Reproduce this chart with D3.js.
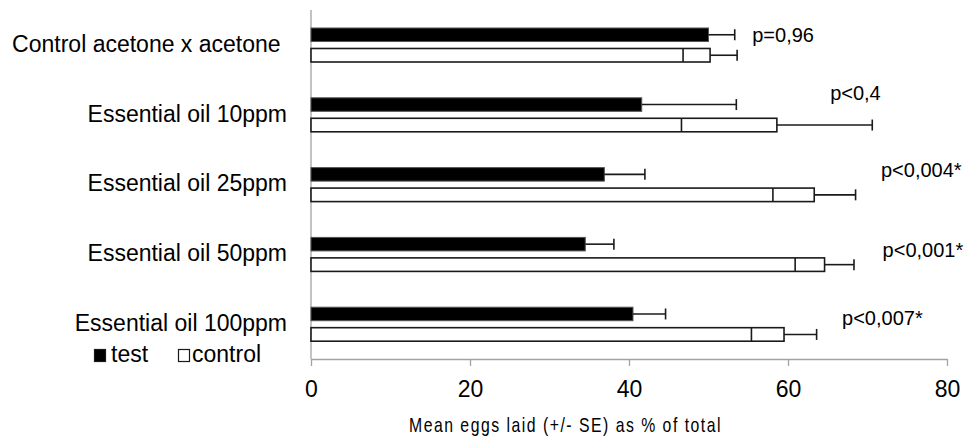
<!DOCTYPE html>
<html>
<head>
<meta charset="utf-8">
<script src="https://cdn.jsdelivr.net/npm/d3@7"></script>
<style>
  html, body { margin: 0; padding: 0; background: #fff; }
  svg { display: block; font-family: "Liberation Sans", Arial, sans-serif; }
  .catLabel { white-space: pre; }
</style>
</head>
<body>
<div id="viz"></div>
<script>
// data
const categories = [
  'Control acetone x acetone ',
  'Essential oil 10ppm',
  'Essential oil 25ppm',
  'Essential oil 50ppm',
  'Essential oil 100ppm',
];
const testMean = [50.0, 41.6, 36.9, 34.5, 40.5];
const testSE = [3.3, 11.9, 5.1, 3.6, 4.1];
const controlMean = [50.2, 58.6, 63.3, 64.6, 59.5];
const controlSE = [3.4, 12.0, 5.2, 3.7, 4.1];
const pLabels = ['p=0,96', 'p<0,4', 'p<0,004*', 'p<0,001*', 'p<0,007*'];
// where each p label sits: x in axis units, y as a fraction of the category band
const pLabelAt = [[55.5, 0.46], [65.3, 0.29], [71.7, 0.39], [71.9, 0.54], [66.8, 0.51]];
const xTicks = [0, 20, 40, 60, 80];
const seriesNames = ['test', 'control'];

const width = 975;
const height = 444;

const svg = d3.select('#viz')
  .append('svg')
  .attr('width', width)
  .attr('height', height);

const x = d3.scaleLinear()
  .domain([0, 80])
  .range([311, 947]);

const y = d3.scaleBand()
  .domain(categories)
  .range([10, 359]);

const sub = d3.scaleBand()
  .domain(seriesNames)
  .range([18, 52])
  .paddingInner(0.34);

const rows = categories.map((c, i) => ({
  cat: c,
  series: [
    { key: 'test', mean: testMean[i], se: testSE[i] },
    { key: 'control', mean: controlMean[i], se: controlSE[i] },
  ],
}));

// axes
const axisColor = '#a3a3a3';

const xAxis = d3.axisBottom(x)
  .tickValues(xTicks)
  .tickSize(7)
  .tickSizeOuter(0)
  .tickPadding(15);

const gx = svg.append('g')
  .attr('transform', `translate(0, ${y.range()[1]})`)
  .call(xAxis);
gx.select('.domain').attr('stroke', axisColor).attr('stroke-width', 1.3);
gx.selectAll('.tick line').attr('stroke', axisColor).attr('stroke-width', 1.3);
gx.selectAll('.tick text')
  .attr('fill', '#000')
  .style('font-size', '23px')
  .style('font-family', '"Liberation Sans", Arial, sans-serif');

svg.append('line')
  .attr('x1', x(0)).attr('x2', x(0))
  .attr('y1', y.range()[0]).attr('y2', y.range()[1])
  .attr('stroke', axisColor)
  .attr('stroke-width', 1.3);

svg.selectAll('text.catLabel')
  .data(categories)
  .join('text')
  .classed('catLabel', true)
  .attr('x', 287)
  .attr('y', d => y(d) + y.bandwidth() / 2)
  .attr('dy', '0.3em')
  .attr('text-anchor', 'end')
  .style('font-size', '23px')
  .text(d => d);

// bars
const groups = svg.selectAll('g.cat')
  .data(rows)
  .join('g')
  .classed('cat', true)
  .attr('transform', d => `translate(0, ${y(d.cat)})`);

groups.selectAll('rect.bar')
  .data(d => d.series)
  .join('rect')
  .classed('bar', true)
  .attr('x', x(0))
  .attr('y', d => sub(d.key))
  .attr('width', d => x(d.mean) - x(0))
  .attr('height', sub.bandwidth())
  .attr('fill', d => d.key === 'test' ? '#000' : '#fff')
  .attr('stroke', d => d.key === 'test' ? '#555' : '#1a1a1a')
  .attr('stroke-width', d => d.key === 'test' ? 1 : 1.6);

// error bars (+/- SE)
const capH = 11;
const err = groups.selectAll('g.err')
  .data(d => d.series)
  .join('g')
  .classed('err', true)
  .attr('stroke', '#1a1a1a')
  .attr('stroke-width', 1.6);

err.append('line')
  .attr('x1', d => x(d.mean))
  .attr('x2', d => x(d.mean + d.se))
  .attr('y1', d => sub(d.key) + sub.bandwidth() / 2)
  .attr('y2', d => sub(d.key) + sub.bandwidth() / 2);

err.append('line')
  .attr('x1', d => x(d.mean + d.se))
  .attr('x2', d => x(d.mean + d.se))
  .attr('y1', d => sub(d.key) + sub.bandwidth() / 2 - capH / 2)
  .attr('y2', d => sub(d.key) + sub.bandwidth() / 2 + capH / 2);

// lower cap only shows inside the white bars
err.filter(d => d.key === 'control')
  .append('line')
  .attr('x1', d => x(d.mean - d.se))
  .attr('x2', d => x(d.mean - d.se))
  .attr('y1', d => sub(d.key))
  .attr('y2', d => sub(d.key) + sub.bandwidth());

// p-value notes
svg.selectAll('text.pLabel')
  .data(pLabels)
  .join('text')
  .classed('pLabel', true)
  .attr('x', (d, i) => x(pLabelAt[i][0]))
  .attr('y', (d, i) => y(categories[i]) + y.bandwidth() * pLabelAt[i][1])
  .style('font-size', '20px')
  .text(d => d);

// axis title (condensed, spaced out like the original)
svg.append('text')
  .attr('x', 409)
  .attr('y', 432)
  .attr('textLength', 313)
  .attr('lengthAdjust', 'spacingAndGlyphs')
  .style('font-size', '21px')
  .style('letter-spacing', '2px')
  .text('Mean eggs laid (+/- SE) as % of total');

// legend
const legend = svg.append('g').attr('transform', 'translate(94, 0)');
const legendX = [0, 84];
const legendGap = [5, 2];
seriesNames.forEach((s, i) => {
  legend.append('rect')
    .attr('x', legendX[i] + 0.5)
    .attr('y', 349.5)
    .attr('width', 11)
    .attr('height', 12)
    .attr('fill', s === 'test' ? '#000' : '#fff')
    .attr('stroke', '#1a1a1a')
    .attr('stroke-width', 1.2);
  legend.append('text')
    .attr('x', legendX[i] + 12 + legendGap[i])
    .attr('y', 362)
    .style('font-size', '23px')
    .text(s);
});
</script>
</body>
</html>
